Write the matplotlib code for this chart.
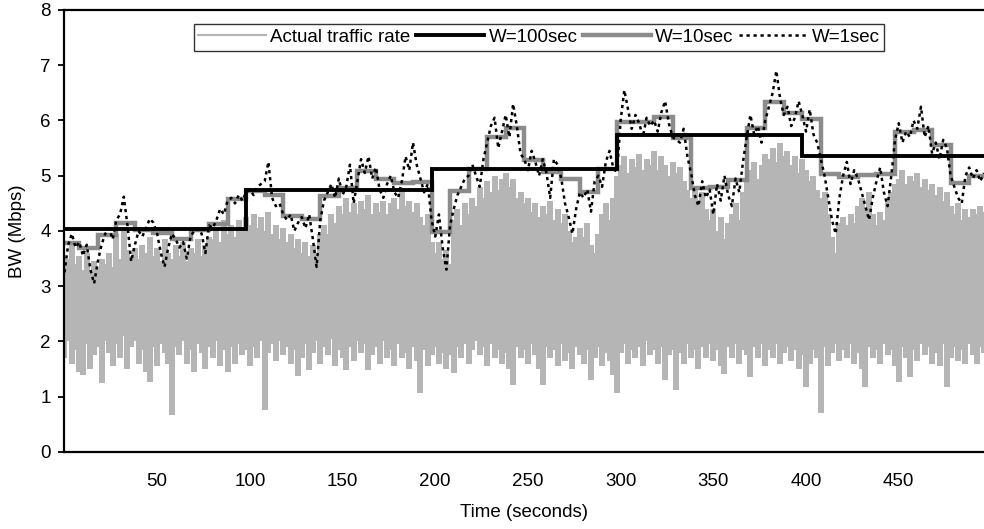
"""
Bandwidth estimate of a traffic trace for three averaging windows
(W = 100 s, 10 s, 1 s) drawn over the raw traffic rate.
"""

import matplotlib
matplotlib.use("Agg")
import matplotlib.pyplot as plt
import numpy as np

plt.rcParams["font.family"] = ["Liberation Sans", "DejaVu Sans"]

# ---------------------------------------------------------------------------
# Data (Mbps)
# ---------------------------------------------------------------------------
T_STEP = 2  # seconds between samples of the traces below

# W = 1 sec average, sampled every 2 s from t = 0
W1_RATE = [
    3.25, 3.75, 3.95, 3.70, 3.80, 3.55, 3.75, 3.30, 3.05, 3.45,
    3.75, 3.95, 4.05, 3.85, 4.20, 4.30, 4.62, 4.10, 3.45, 3.75,
    4.00, 3.90, 4.05, 4.22, 4.15, 3.95, 3.60, 3.35, 3.70, 3.95,
    3.85, 3.70, 3.80, 3.50, 3.90, 4.00, 4.05, 3.95, 3.60, 4.10,
    4.05, 4.20, 4.40, 4.30, 4.55, 4.60, 4.50, 4.65, 4.55, 4.70,
    4.75, 4.65, 4.80, 4.85, 4.90, 5.25, 4.60, 4.45, 4.50, 4.30,
    4.20, 4.30, 4.00, 4.15, 4.25, 4.05, 4.30, 3.85, 3.35, 4.20,
    4.55, 4.70, 4.85, 4.60, 4.95, 4.65, 4.80, 5.20, 4.50, 4.90,
    5.30, 5.05, 5.35, 4.95, 5.15, 4.75, 4.60, 4.85, 5.00, 4.70,
    4.60, 4.90, 5.35, 5.10, 5.60, 5.20, 4.95, 4.70, 4.85, 4.20,
    3.90, 4.30, 3.70, 3.30, 4.10, 4.40, 4.65, 4.80, 4.95, 5.00,
    5.20, 5.00, 4.80, 5.30, 5.60, 5.90, 6.05, 5.50, 5.80, 6.10,
    5.70, 6.30, 5.90, 5.40, 5.30, 5.10, 5.45, 5.25, 5.00, 5.30,
    5.05, 4.60, 5.30, 5.20, 4.95, 4.50, 4.25, 3.95, 4.40, 4.70,
    4.60, 4.75, 4.35, 4.90, 5.00, 4.80, 5.25, 5.45, 5.15, 5.05,
    6.00, 6.55, 6.20, 5.85, 6.10, 5.95, 5.70, 6.05, 5.90, 6.00,
    5.80, 6.15, 6.35, 5.95, 5.70, 5.65, 5.60, 5.85, 5.35, 5.05,
    4.65, 4.45, 4.90, 4.60, 4.75, 4.30, 4.85, 4.55, 5.00, 4.65,
    4.45, 4.95, 4.70, 5.25, 5.70, 6.10, 5.75, 5.90, 5.60, 6.00,
    6.25, 6.50, 6.90, 6.40, 6.10, 6.25, 5.90, 6.05, 6.35, 6.10,
    5.80, 6.20, 5.75, 5.60, 5.30, 5.00, 4.60, 4.20, 3.95, 4.60,
    5.00, 5.25, 4.85, 5.10, 4.95, 4.70, 4.45, 4.20, 4.60, 4.90,
    5.15, 4.70, 4.45, 5.00, 5.65, 5.95, 5.60, 5.80, 5.70, 6.00,
    5.85, 6.25, 5.70, 5.90, 5.40, 5.60, 5.30, 5.65, 5.50, 5.00,
    4.80, 4.60, 4.50, 5.00, 5.15, 4.95, 5.10, 4.90, 5.05,
]

# Raw traffic rate: upper and lower excursions of the trace, every 2 s
TRAFFIC_HI = [
    3.30, 3.50, 3.80, 3.40, 3.55, 3.30, 3.60, 3.25, 3.45, 3.35,
    3.50, 3.40, 3.60, 3.35, 3.95, 3.50, 4.00, 3.65, 3.55, 3.70,
    3.50, 3.75, 3.60, 3.90, 3.55, 3.70, 3.45, 3.85, 3.60, 3.50,
    3.75, 3.55, 3.80, 3.45, 3.70, 3.60, 3.85, 3.55, 3.75, 3.90,
    3.85, 4.05, 3.80, 4.20, 3.95, 4.10, 3.90, 4.20, 4.00, 4.25,
    4.10, 4.30, 4.05, 4.25, 4.00, 4.35, 3.95, 4.10, 3.85, 4.05,
    3.80, 3.95, 3.70, 3.85, 3.60, 3.80, 3.55, 3.75, 3.50, 3.95,
    4.10, 3.95, 4.30, 4.15, 4.45, 4.30, 4.60, 4.35, 4.50, 4.30,
    4.55, 4.40, 4.65, 4.30, 4.50, 4.35, 4.55, 4.30, 4.50, 4.60,
    4.40, 4.70, 4.45, 4.55, 4.35, 4.50, 4.25, 4.10, 4.30, 3.80,
    3.60, 3.80, 3.50, 3.65, 3.40, 4.20, 4.40, 4.10, 4.50, 4.30,
    4.60, 4.45, 4.80, 4.60, 4.90, 4.70, 5.00, 4.75, 4.95, 5.05,
    4.80, 4.95, 4.60, 4.70, 4.50, 4.60, 4.35, 4.50, 4.25, 4.45,
    4.30, 4.55, 4.20, 4.40, 4.15, 4.30, 4.00, 3.80, 3.90, 4.05,
    3.90, 4.15, 3.75, 3.60, 3.95, 4.30, 4.50, 4.20, 4.60, 5.00,
    5.20, 5.35, 5.05, 5.30, 5.15, 5.40, 5.10, 5.30, 5.20, 5.45,
    5.10, 5.35, 5.20, 5.00, 5.25, 5.05, 5.15, 4.90, 4.75, 4.60,
    4.80, 4.55, 4.70, 4.40, 4.20, 4.40, 4.00, 4.25, 3.85, 4.15,
    4.30, 4.50, 4.20, 4.70, 4.95, 5.10, 5.25, 4.95, 5.20, 5.40,
    5.30, 5.50, 5.25, 5.60, 5.35, 5.45, 5.20, 5.35, 5.05, 5.30,
    5.10, 4.90, 5.00, 4.75, 4.60, 4.70, 4.30, 3.90, 3.60, 4.15,
    4.25, 4.10, 4.30, 4.15, 4.45, 4.60, 4.40, 4.70, 4.30, 4.10,
    4.35, 4.20, 4.55, 4.70, 4.85, 4.95, 5.10, 4.85, 5.00, 4.90,
    5.05, 4.80, 4.95, 4.75, 4.85, 4.65, 4.80, 4.55, 4.70, 4.45,
    4.30, 4.50, 4.20, 4.40, 4.25, 4.40, 4.30, 4.45, 4.35,
]
TRAFFIC_LO = [
    1.70, 2.00, 1.60, 1.85, 1.45, 1.40, 1.95, 1.50, 1.75, 1.90,
    1.25, 2.00, 1.80, 1.55, 1.95, 1.70, 2.10, 1.50, 1.90, 2.00,
    1.60, 1.85, 1.45, 1.27, 1.90, 1.55, 1.95, 1.80, 1.60, 0.67,
    1.90, 1.75, 2.00, 1.60, 1.85, 1.45, 1.95, 1.80, 1.50, 1.90,
    1.70, 2.00, 1.55, 1.85, 1.45, 1.90, 1.60, 1.95, 1.75, 1.85,
    1.55, 1.90, 1.70, 2.00, 0.76, 1.80, 1.95, 1.65, 2.00, 1.75,
    1.90, 1.60, 1.85, 1.37, 1.70, 1.95, 1.49, 1.80, 2.00, 1.60,
    1.90, 1.75, 2.05, 1.55, 1.85, 1.70, 1.48, 1.90, 1.65, 2.00,
    1.80, 1.95, 1.48, 1.75, 1.90, 1.60, 2.00, 1.70, 1.85, 1.55,
    1.95, 1.70, 1.80, 1.50, 1.90, 1.65, 1.06, 1.85, 1.55, 1.75,
    1.90, 1.60, 1.80, 1.50, 1.75, 1.43, 1.90, 1.70, 1.95, 1.60,
    1.85, 2.00, 1.75, 1.90, 1.55, 1.95, 1.70, 1.85, 1.60, 1.80,
    1.50, 1.21, 1.90, 1.70, 1.85, 1.60, 1.95, 1.75, 1.50, 1.21,
    1.90, 1.70, 1.85, 1.55, 1.95, 1.65, 1.80, 1.50, 1.90, 1.75,
    1.60, 1.85, 1.30, 1.70, 1.90, 1.55, 1.80, 1.65, 1.40, 1.06,
    1.80, 1.95, 1.60, 1.85, 1.70, 1.90, 1.55, 2.00, 1.75, 1.85,
    1.60, 1.90, 1.30, 1.75, 1.85, 1.12, 1.80, 1.60, 1.95, 1.70,
    1.85, 1.50, 1.90, 1.70, 1.95, 1.65, 1.85, 1.55, 1.42, 1.90,
    1.70, 1.95, 1.60, 1.85, 1.75, 1.36, 1.90, 1.70, 1.95, 1.55,
    1.85, 1.70, 1.95, 1.60, 1.80, 1.90, 1.65, 1.85, 1.50, 1.75,
    1.18, 1.60, 1.85, 1.70, 0.70, 1.90, 1.55, 1.80, 1.95, 1.65,
    1.85, 1.70, 1.95, 1.60, 1.80, 1.50, 1.18, 1.90, 1.70, 1.85,
    1.60, 1.95, 1.75, 1.85, 1.55, 1.27, 1.90, 1.70, 1.36, 1.85,
    1.65, 1.95, 1.75, 1.90, 1.60, 1.80, 1.55, 1.95, 1.18, 1.70,
    1.90, 1.65, 1.85, 1.60, 1.95, 1.75, 1.60, 1.90, 1.80,
]

# W = 10 sec average, one value per window; first window starts at t = -2
W10_START = -2
W10_RATE = [
    3.79, 3.69, 3.93, 4.15, 4.02, 3.96, 3.86, 4.01, 4.13, 4.57,
    4.72, 4.65, 4.28, 4.21, 4.63, 4.78, 5.08, 4.95, 4.86, 4.88,
    3.98, 4.72, 5.12, 5.71, 5.86, 5.28, 5.07, 4.94, 4.71, 5.13,
    5.98, 5.98, 6.06, 5.68, 4.77, 4.80, 4.92, 5.86, 6.34, 6.13,
    6.02, 5.04, 4.98, 5.01, 5.03, 5.80, 5.82, 5.56, 4.86, 5.00,
]

# W = 100 sec average
W100_START = -2
W100_RATE = [4.03, 4.74, 5.12, 5.73, 5.35]

X_TICKS = [50, 100, 150, 200, 250, 300, 350, 400, 450]
Y_TICKS = [0, 1, 2, 3, 4, 5, 6, 7, 8]

TRAFFIC_GREY = "#b5b5b5"
W10_GREY = "#8c8c8c"
FS = 13.5
DOTS = (0, (1.3, 1.5))


def make_figure():
    fig = plt.figure(figsize=(9.84, 5.29), dpi=100)
    ax = fig.add_axes([0.0655, 0.1456, 0.9345, 0.8355])

    t = np.arange(len(W1_RATE)) * T_STEP

    # raw trace: one vertical stroke per sample spanning its excursion
    ax.vlines(t, TRAFFIC_LO, TRAFFIC_HI, color=TRAFFIC_GREY, lw=3.0,
              antialiased=False, zorder=1)

    w10_edges = W10_START + 10 * np.arange(len(W10_RATE) + 1)
    w100_edges = W100_START + 100 * np.arange(len(W100_RATE) + 1)
    ax.stairs(W10_RATE, w10_edges, color=W10_GREY, lw=3.2,
              baseline=None, zorder=2)
    ax.stairs(W100_RATE, w100_edges, color="black", lw=2.8,
              baseline=None, zorder=3)
    ax.plot(t, W1_RATE, color="black", lw=1.8, linestyle=DOTS, zorder=4)

    ax.set_xlim(0, 496)
    ax.set_ylim(0, 8)
    ax.set_xticks(X_TICKS)
    ax.set_yticks(Y_TICKS)

    for side in ("left", "top", "bottom"):
        ax.spines[side].set_linewidth(1.6)
    ax.spines["right"].set_visible(False)
    ax.tick_params(axis="x", length=0, pad=15, labelsize=FS)
    ax.tick_params(axis="y", length=4, width=1.3, pad=6, labelsize=FS)

    ax.set_xlabel("Time (seconds)", fontsize=FS, labelpad=10)
    ax.set_ylabel("BW (Mbps)", fontsize=FS, labelpad=10)

    labels = ["Actual traffic rate", "W=100sec", "W=10sec", "W=1sec"]
    lines = [
        plt.Line2D([], [], color=TRAFFIC_GREY, lw=1.6),
        plt.Line2D([], [], color="black", lw=2.8),
        plt.Line2D([], [], color=W10_GREY, lw=3.2),
        plt.Line2D([], [], color="black", lw=1.8, linestyle=DOTS),
    ]
    leg = ax.legend(lines, labels, loc="center", ncol=4,
                    bbox_to_anchor=(0.516, 0.938), fontsize=FS,
                    frameon=True, fancybox=False, handlelength=3.6,
                    handletextpad=0.25, columnspacing=0.3,
                    borderpad=0.25, borderaxespad=0)
    leg.get_frame().set_edgecolor("black")
    leg.get_frame().set_linewidth(1.0)

    fig.savefig("out.png", dpi=100)
    return fig


if __name__ == "__main__":
    make_figure()
